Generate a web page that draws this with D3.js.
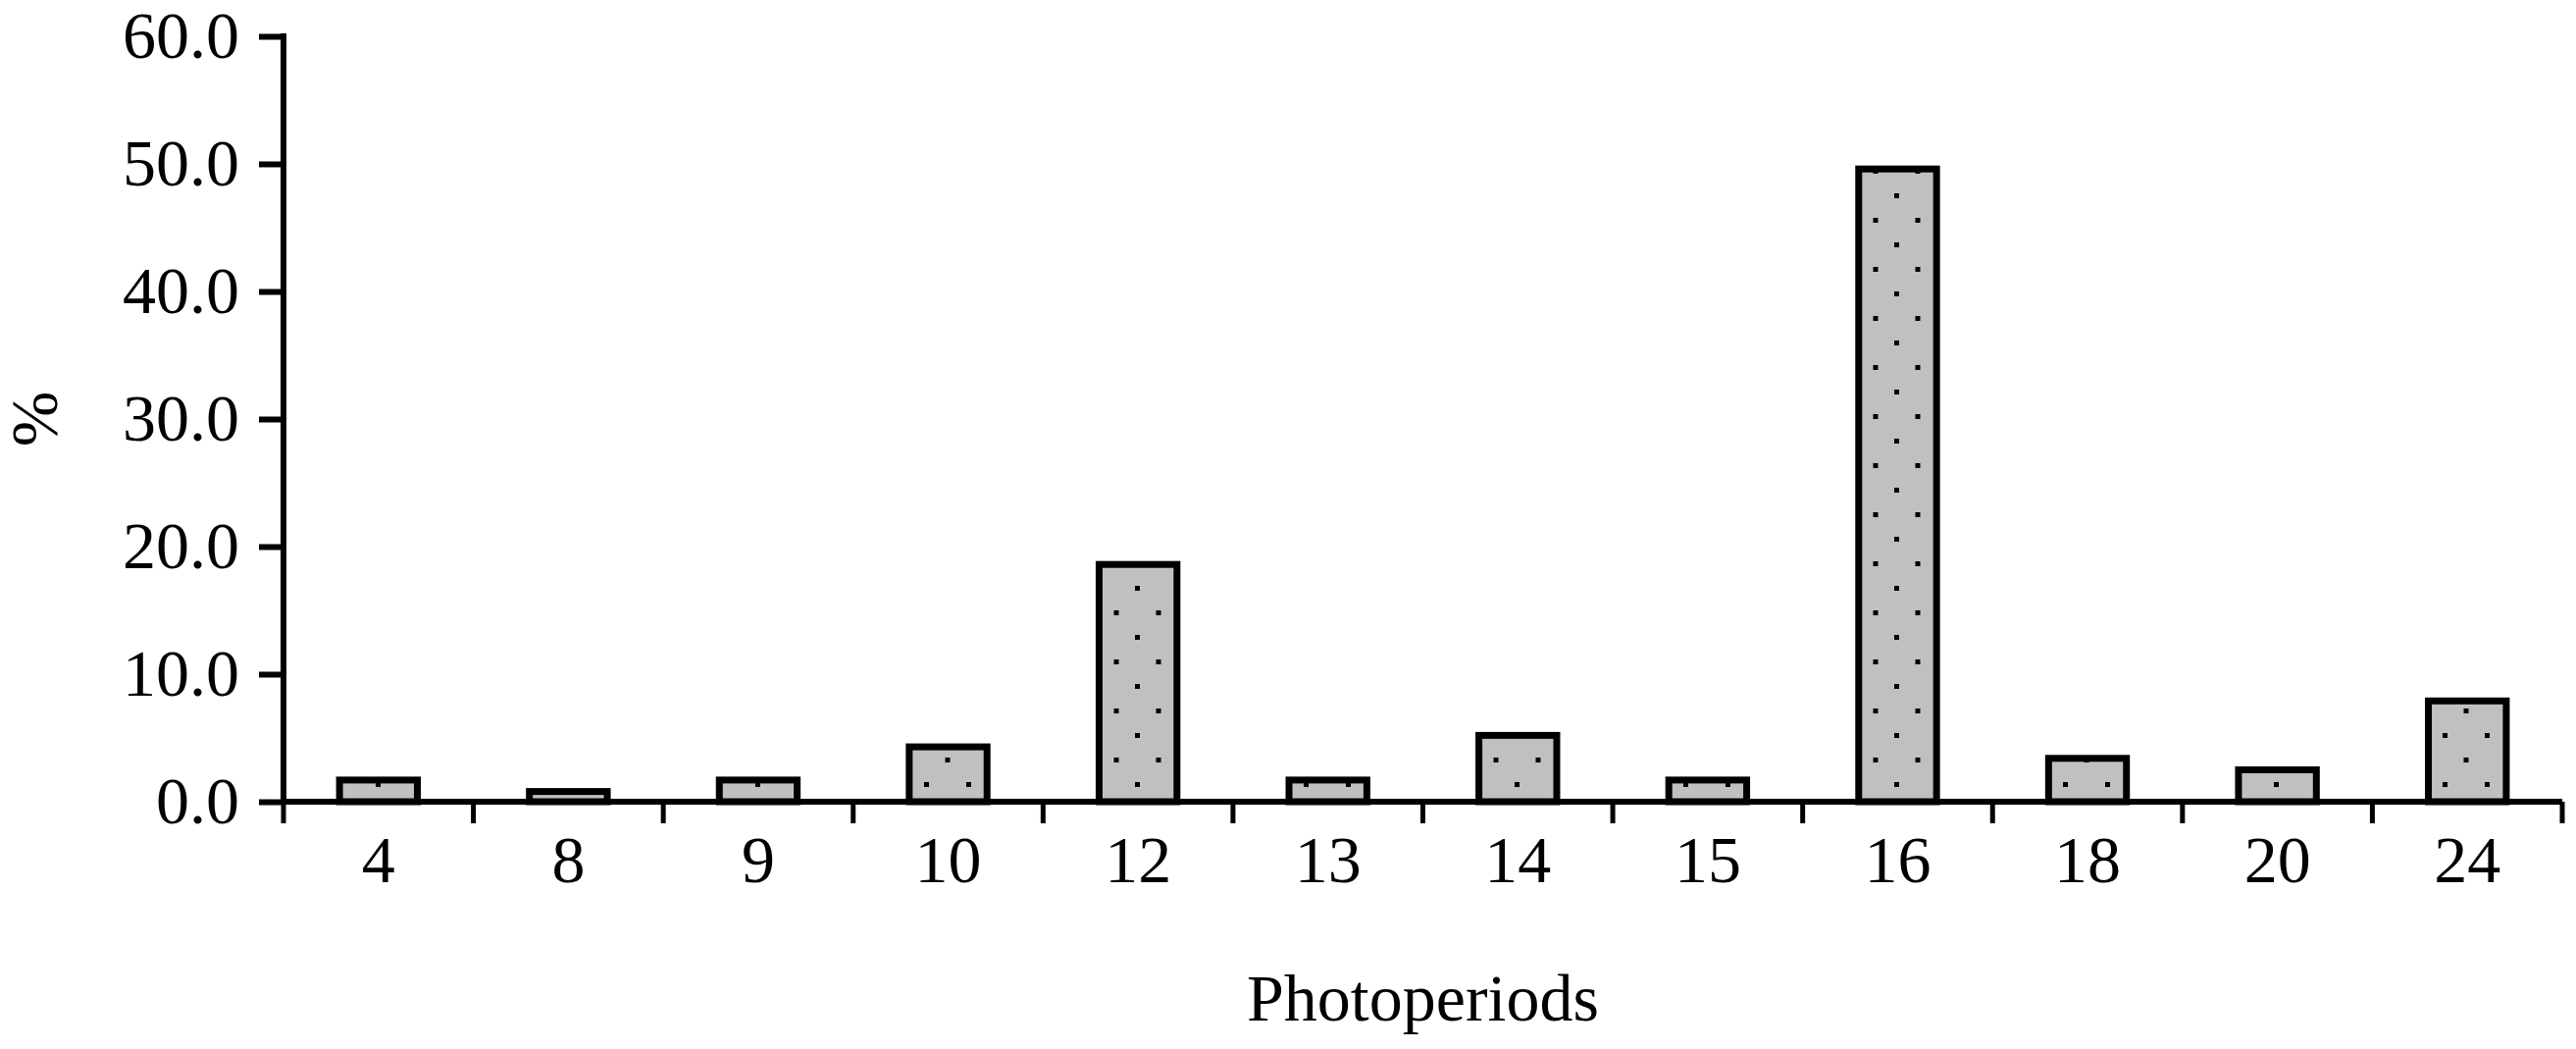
<!DOCTYPE html>
<html><head><meta charset="utf-8">
<script src="https://cdn.jsdelivr.net/npm/d3@7"></script>
<style>body{margin:0;background:#fff}svg{display:block}</style>
</head><body><div id="chart"></div>
<script>
var categories = ["4","8","9","10","12","13","14","15","16","18","20","24"];
var values = [1.7, 0.8, 1.7, 4.3, 18.6, 1.7, 5.2, 1.7, 49.6, 3.4, 2.5, 7.9];
var yTicks = [0, 10, 20, 30, 40, 50, 60];

var W = 2626, H = 1069;
var margin = {top: 37, right: 14, bottom: 252, left: 289};
var width = W - margin.left - margin.right,
    height = H - margin.top - margin.bottom;
var font = "'Liberation Serif', 'DejaVu Serif', serif";

var svg = d3.select("#chart").append("svg").attr("width", W).attr("height", H);
var defs = svg.append("defs");
var pat = defs.append("pattern").attr("id", "dots").attr("patternUnits", "userSpaceOnUse")
    .attr("width", 43).attr("height", 50);
pat.append("rect").attr("width", 43).attr("height", 50).attr("fill", "#c0c0c0");
pat.append("rect").attr("x", 8).attr("y", 10).attr("width", 5).attr("height", 5).attr("fill", "#000");
pat.append("rect").attr("x", 29.5).attr("y", 35).attr("width", 5).attr("height", 5).attr("fill", "#000");

var g = svg.append("g").attr("transform", "translate(" + margin.left + "," + margin.top + ")");

var x = d3.scaleBand().domain(categories).range([0, width]).paddingInner(0.59).paddingOuter(0.295);
var y = d3.scaleLinear().domain([0, 60]).range([height, 0]);

// bars
g.selectAll("rect.bar").data(values).enter().append("rect")
    .attr("class", "bar")
    .attr("x", function (d, i) { return x(categories[i]); })
    .attr("y", function (d) { return y(d); })
    .attr("width", x.bandwidth())
    .attr("height", function (d) { return height - y(d); })
    .attr("fill", "url(#dots)")
    .attr("stroke", "#000").attr("stroke-width", 7);

// y axis
var yAxis = g.append("g").call(d3.axisLeft(y).tickValues(yTicks).tickSize(25).tickPadding(20)
    .tickFormat(d3.format(".1f")));
yAxis.select(".domain").attr("stroke-width", 6).attr("d", "M0," + (height + 3) + "V-3");
yAxis.selectAll(".tick line").attr("stroke-width", 6);
yAxis.selectAll("text").attr("font-family", font).attr("font-size", 68).attr("fill", "#000");

// x axis with ticks at band boundaries
var xAxis = g.append("g").attr("transform", "translate(0," + height + ")");
xAxis.append("line").attr("x1", 0).attr("x2", width).attr("stroke", "#000").attr("stroke-width", 6);
var step = x.step();
var edges = d3.range(categories.length + 1).map(function (i) { return i * step; });
xAxis.selectAll("line.tk").data(edges).enter().append("line")
    .attr("class", "tk")
    .attr("x1", function (d) { return d; }).attr("x2", function (d) { return d; })
    .attr("y1", 0).attr("y2", 22).attr("stroke", "#000").attr("stroke-width", 5);
xAxis.selectAll("text").data(categories).enter().append("text")
    .attr("x", function (d) { return x(d) + x.bandwidth() / 2; })
    .attr("y", 82)
    .attr("text-anchor", "middle")
    .attr("font-family", font).attr("font-size", 68)
    .text(function (d) { return d; });

// axis titles
svg.append("text").attr("x", margin.left + width / 2).attr("y", 1040)
    .attr("text-anchor", "middle").attr("font-family", font).attr("font-size", 68)
    .text("Photoperiods");
svg.append("text").attr("transform", "translate(58," + (margin.top + height / 2) + ") rotate(-90)")
    .attr("text-anchor", "middle").attr("font-family", font).attr("font-size", 68)
    .text("%");
</script></body></html>
